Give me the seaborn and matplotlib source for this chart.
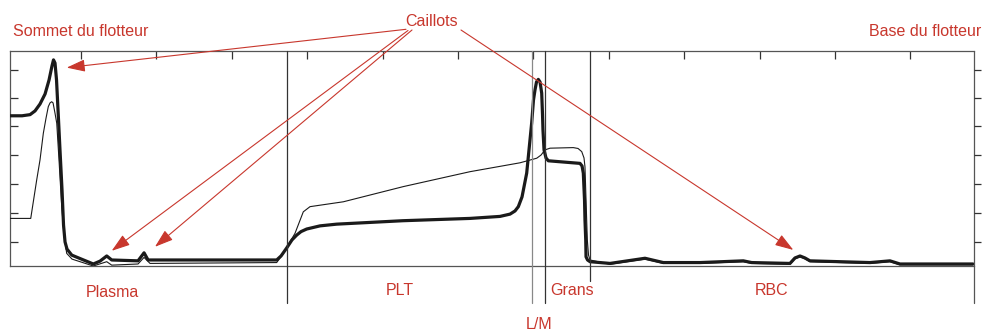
import numpy as np
import matplotlib.pyplot as plt
import seaborn as sns
import pandas as pd

# trace: position along the tube (ticks every 10) and signal
thick_x = [-9.42, -7.82, -6.76, -6.10, -5.44, -4.77, -4.24, -3.85, -3.65, -3.45, -3.25, -3.05,
           -2.79, -2.52, -2.32, -2.12, -1.86, -1.23, -0.13,
           1.63, 2.52, 3.41, 4.07, 7.56, 8.36, 8.89, 15.78, 25.95, 26.53, 27.28, 27.98, 28.61,
           29.18, 29.93, 31.70, 33.91, 42.71, 51.59, 55.57, 56.90, 57.56, 58.00, 58.49, 59.11,
           59.48, 59.77, 60.01, 60.21, 60.41, 60.65, 60.88, 61.10, 61.21, 61.27, 61.41, 61.67,
           61.98, 66.18, 66.45, 66.62, 66.78, 66.84, 66.94, 66.98, 67.18, 67.51, 70.16, 74.80,
           77.23, 82.10, 87.84, 88.95, 94.03, 94.69, 95.36, 96.02, 96.68, 104.64, 107.29,
           108.62, 118.30]
thick_y = [5.24, 5.24, 5.28, 5.41, 5.65, 6.00, 6.49, 6.98, 7.19, 7.08, 6.49, 5.44,
           4.05, 2.65, 1.43, 0.84, 0.59, 0.38, 0.26,
           0.07, 0.17, 0.35, 0.21, 0.18, 0.46, 0.21, 0.21, 0.21, 0.35, 0.63, 0.91, 1.08,
           1.20, 1.29, 1.40, 1.46, 1.58, 1.66, 1.73, 1.81, 1.92, 2.07, 2.41, 3.24,
           4.22, 4.99, 5.79, 6.14, 6.42, 6.51, 6.42, 6.03, 5.27, 4.74, 4.05, 3.77,
           3.67, 3.58, 3.49, 3.24, 2.30, 1.60, 0.91, 0.32, 0.21, 0.15, 0.09, 0.27,
           0.12, 0.12, 0.18, 0.12, 0.09, 0.28, 0.35, 0.28, 0.18, 0.12, 0.18,
           0.07, 0.07]

thin_x = [-9.42, -6.67, -5.88, -5.44, -5.00, -4.64, -4.34, -4.11, -3.89, -3.71, -3.45, -3.22,
          -2.92, -2.56, -2.25, -1.90, -1.19, -0.13, 1.63,
          3.41, 4.07, 7.56, 8.36, 9.15, 25.95, 26.83, 28.38, 29.48, 30.37, 34.79, 42.75,
          51.59, 58.22, 60.44, 61.01, 61.54, 62.20, 65.29, 65.92, 66.41, 66.71, 66.84, 66.98,
          67.15, 67.31, 67.51, 70.16, 74.80, 77.23, 82.10, 87.84, 88.95, 94.03, 94.69, 95.36,
          96.02, 96.68, 104.64, 107.29, 108.62, 118.30]
thin_y = [1.66, 1.66, 3.00, 3.70, 4.63, 5.16, 5.56, 5.69, 5.73, 5.69, 5.33, 4.98,
          3.70, 2.07, 1.08, 0.44, 0.24, 0.15, 0.00,
          0.15, 0.03, 0.07, 0.30, 0.09, 0.12, 0.44, 1.14, 1.89, 2.07, 2.24, 2.77,
          3.29, 3.60, 3.76, 3.87, 4.05, 4.11, 4.13, 4.10, 3.99, 3.77, 3.46, 2.30,
          0.91, 0.38, 0.21, 0.06, 0.24, 0.09, 0.09, 0.15, 0.09, 0.06, 0.25, 0.32,
          0.25, 0.15, 0.09, 0.15, 0.04, 0.04]

zone_names = ["Plasma", "PLT", "Grans", "RBC", "L/M"]
boundaries = [27.32, 59.81, 61.58, 67.47, 118.37]

red = "#c8372d"
dark = "#333333"

sns.set_style("white")
plt.rcParams['font.family'] = ['Liberation Sans', 'DejaVu Sans']

fig = plt.figure(figsize=(9.82, 3.31), dpi=100)
ax = fig.add_axes([10 / 982, 65 / 331, 963.5 / 982, 215 / 331])

thick = pd.DataFrame({"x": thick_x, "y": thick_y})
thin = pd.DataFrame({"x": thin_x, "y": thin_y})
sns.lineplot(data=thin, x="x", y="y", ax=ax, color="#1a1a1a", lw=0.8, sort=False, zorder=3)
sns.lineplot(data=thick, x="x", y="y", ax=ax, color="#1a1a1a", lw=2.3, sort=False, zorder=4)
for ln in ax.lines:
    ln.set_solid_joinstyle("round")

ax.set_xlim(-9.42, 118.37)
ax.set_ylim(0, 7.5)
ax.set_xlabel("")
ax.set_ylabel("")

ax.set_xticks(np.arange(0, 111, 10))
ax.set_yticks([0.82, 1.84, 2.86, 3.88, 4.88, 5.87, 6.83])
ax.tick_params(axis="x", bottom=False, top=True, labelbottom=False, labeltop=False,
               direction="in", length=6, width=0.9, color=dark)
ax.tick_params(axis="y", left=True, right=False, labelleft=False,
               direction="in", length=6, width=0.9, color=dark)

for side in ["left", "top", "bottom"]:
    ax.spines[side].set_color("#555555")
    ax.spines[side].set_linewidth(0.9)
ax.spines["right"].set_visible(False)

# right hand ticks point outwards
ax2 = ax.twinx()
ax2.set_ylim(ax.get_ylim())
ax2.set_yticks([0.82, 1.84, 2.86, 3.88, 4.88, 5.87, 6.83])
ax2.tick_params(axis="y", right=True, labelright=False, direction="out",
                length=5, width=0.9, color=dark)
for s in ax2.spines.values():
    s.set_visible(False)

# zone boundaries, running below the axis
trans = ax.get_xaxis_transform()
low = [-0.173, -0.173, -0.173, -0.07, -0.173]
cols = [dark, "#888888", dark, dark, "#555555"]
for b, lo, c in zip(boundaries, low, cols):
    ax.plot([b, b], [lo, 1], transform=trans, color=c, lw=0.9, clip_on=False, zorder=5)

# zone names
label_x = [4.1, 42.3, 65.1, 91.6, 60.8]
label_y = [-0.125, -0.116, -0.116, -0.116, -0.274]
for name, lx, ly in zip(zone_names, label_x, label_y):
    ax.text(lx, ly, name, transform=trans, ha="center", va="center",
            color=red, fontsize=11.5)

fig.text(13 / 982, 1 - 31 / 331, "Sommet du flotteur", ha="left", va="center",
         color=red, fontsize=11.5)
fig.text(981 / 982, 1 - 31 / 331, "Base du flotteur", ha="right", va="center",
         color=red, fontsize=11.5)
fig.text(432 / 982, 1 - 22 / 331, "Caillots", ha="center", va="center",
         color=red, fontsize=11.5)

# arrows from "Caillots" to the clots
tips = [(-1.90, 6.92), (4.07, 0.53), (9.81, 0.67), (94.47, 0.56)]
starts = [(406, 29.3), (408, 30.5), (412, 30.0), (461, 30.0)]
for (tx, ty), (sx, sy) in zip(tips, starts):
    ax.annotate("", xy=(tx, ty), xycoords="data",
                xytext=(sx / 982, 1 - sy / 331), textcoords="figure fraction",
                arrowprops=dict(arrowstyle="-|>,head_length=0.75,head_width=0.25",
                                color=red, lw=0.8, mutation_scale=15,
                                shrinkA=0, shrinkB=0),
                annotation_clip=False, zorder=6)

fig.savefig("out.png", dpi=100)
